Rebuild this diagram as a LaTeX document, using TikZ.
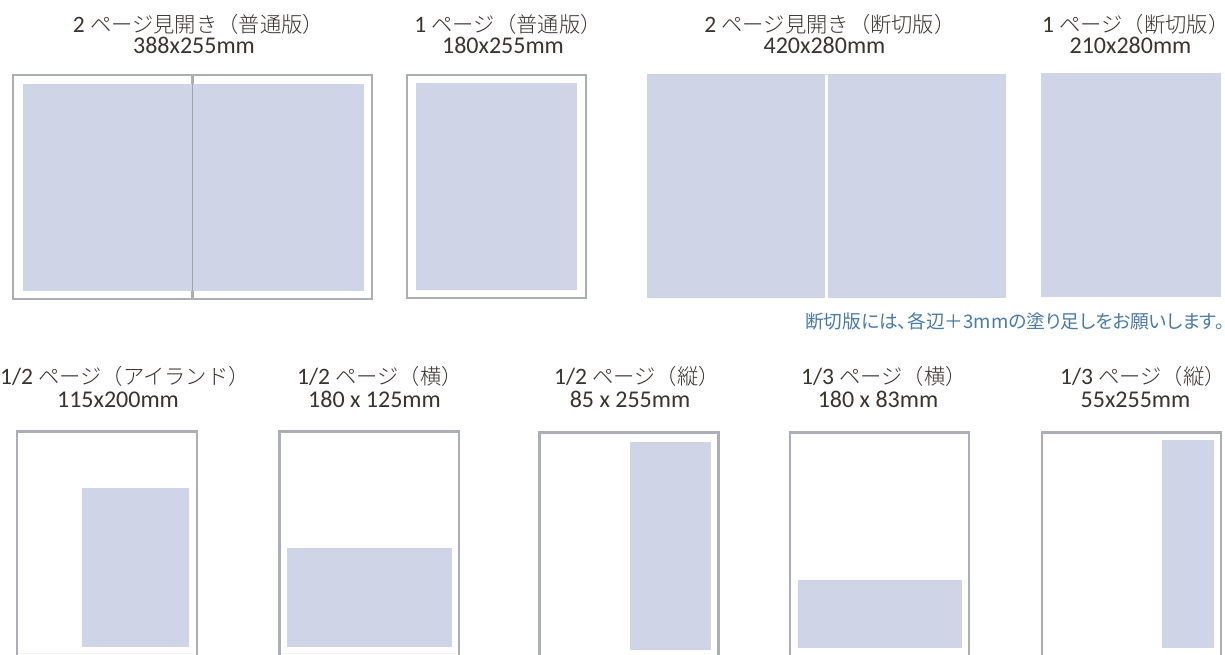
\documentclass[tikz,border=0pt]{standalone}
\usepackage{fontspec}
\setmainfont{Carlito}
\newfontfamily\jp{Noto Sans CJK JP Light}
\newfontfamily\jpnote[RawFeature=+palt]{Noto Sans CJK JP}
\definecolor{adfill}{HTML}{CFD5E7}
\definecolor{framec}{HTML}{ABAEB6}
\definecolor{spinec}{HTML}{A0A4A8}
\definecolor{faintc}{HTML}{F2F2F4}
\definecolor{txt}{HTML}{3A3330}
\definecolor{notec}{HTML}{4A7BA6}
\tikzset{
  x=1pt,y=-1pt,
  adarea/.style={fill=adfill,draw=none},
  pageframe/.style={draw=framec,line width=2.8pt},
  head/.style={inner sep=0pt,text=txt,text depth=0pt,font=\fontsize{23.5}{24}\selectfont,anchor=base},
  size/.style={inner sep=0pt,text=txt,text height=14pt,font=\fontsize{24}{24}\selectfont,anchor=base},
  note/.style={inner sep=0pt,text=notec,font=\jpnote\fontsize{18.7}{19}\selectfont,anchor=base east}
}
\newcommand{\J}[1]{{\jp\fontsize{21.3}{20}\selectfont #1}}
\begin{document}
\begin{tikzpicture}
\useasboundingbox (0,0) rectangle (1225,654);
\fill[white] (0,0) rectangle (1225,654);
% top row
\draw[pageframe] (13,75) rectangle (372,299);
\draw[pageframe,line width=2.2pt] (192.5,75) -- (192.5,299);
\fill[adarea] (23,84) rectangle (364,291);
\draw[draw=spinec,line width=1pt] (192.5,84) -- (192.5,291);
\draw[pageframe] (407,75) rectangle (586,298);
\fill[adarea] (416,83) rectangle (577,290);
\fill[adarea] (647,74) rectangle (1006,298);
\fill[white] (825,75) rectangle (827.5,298);
\fill[adarea] (1041,73) rectangle (1221,297);
% bottom row
\draw[pageframe] (17,431.5) rectangle (197,680);
\draw[faintc,line width=1pt] (19,653.5) -- (195,653.5);
\fill[adarea] (82,488) rectangle (189,647);
\draw[pageframe] (279.5,431.5) rectangle (459,680);
\draw[faintc,line width=1pt] (281,653.5) -- (457,653.5);
\fill[adarea] (287,548) rectangle (452,647);
\draw[pageframe] (539.5,432.5) rectangle (718.5,680);
\fill[adarea] (630,442) rectangle (711,650);
\draw[pageframe] (790,432.5) rectangle (969,680);
\fill[adarea] (798,580) rectangle (962,648);
\draw[pageframe] (1042,432.5) rectangle (1221,680);
\fill[adarea] (1162,440) rectangle (1214,648);
% labels
\node[head] (a1) at (198.5,32) {2 \J{ページ見開き（普通版）}};
\node[size] (a2) at (194,53) {388x255mm};
\node[head] (b1) at (508,32) {1 \J{ページ（普通版）}};
\node[size] (b2) at (503,53) {180x255mm};
\node[head] (c1) at (830,32) {2 \J{ページ見開き（断切版）}};
\node[size] (c2) at (824.5,53) {420x280mm};
\node[head] (d1) at (1130.5,32) {1 \J{ページ（断切版）}\hspace*{-10.6pt}};
\node[size] (d2) at (1130.5,53) {210x280mm};
\node[note] (n) at (1224.5,328) {断切版には、各辺＋3mmの塗り足しをお願いします。};
\node[head] (e1) at (125,384) {1/2 \J{ページ（アイランド）}};
\node[size] (e2) at (118,407) {115x200mm};
\node[head] (f1) at (380,384) {1/2 \J{ページ（横）}};
\node[size] (f2) at (374.5,407) {180 x 125mm};
\node[head] (g1) at (637,384) {1/2 \J{ページ（縦）}};
\node[size] (g2) at (630,407) {85 x 255mm};
\node[head] (h1) at (884,384) {1/3 \J{ページ（横）}};
\node[size] (h2) at (878,407) {180 x 83mm};
\node[head] (i1) at (1143,384) {1/3 \J{ページ（縦）}};
\node[size] (i2) at (1135.5,407) {55x255mm};
\end{tikzpicture}
\end{document}
